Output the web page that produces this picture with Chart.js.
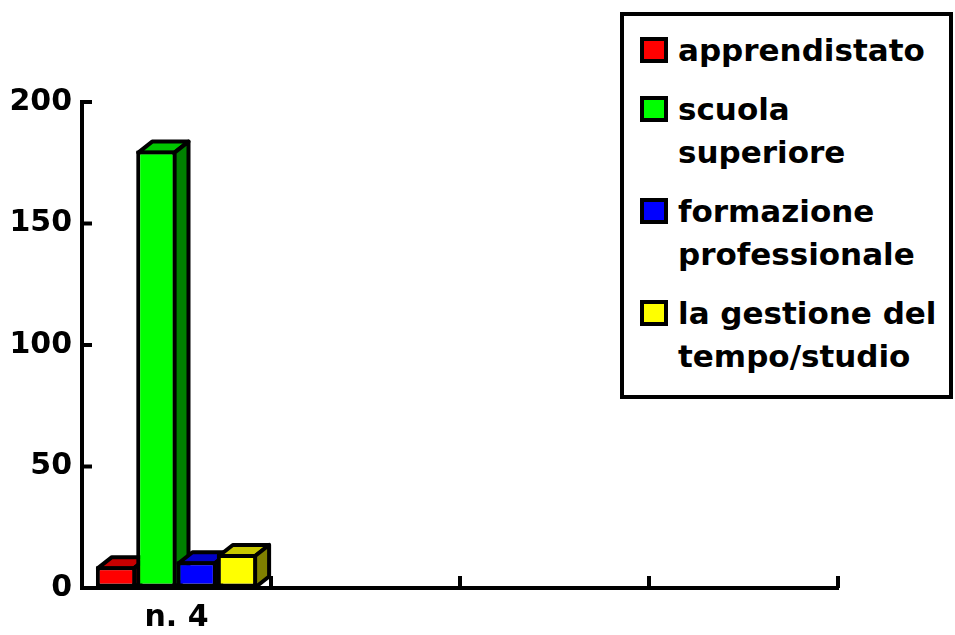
<!DOCTYPE html>
<html>
<head>
<meta charset="utf-8">
<script src="https://cdn.jsdelivr.net/npm/chart.js@4.4.1/dist/chart.umd.min.js"></script>
<style>
  body { margin: 0; background: #fff; }
  #wrap { position: relative; width: 955px; height: 635px; }
  #chart { display: block; }
  #legend {
    position: absolute; left: 620px; top: 12px; width: 333px; height: 387px;
    box-sizing: border-box; border: 4px solid #000; background: #fff;
    padding: 13px 0 0 16px;
    font: bold 31px "DejaVu Sans", sans-serif; line-height: 43px; color: #000;
  }
  .item { display: flex; align-items: flex-start; margin-bottom: 16px; }
  .swatch { flex: none; width: 28px; height: 26px; box-sizing: border-box; border: 4px solid #000; margin: 8px 10px 0 0; }
  .txt { white-space: pre-line; }
</style>
</head>
<body>
<div id="wrap">
  <canvas id="chart" width="955" height="635"></canvas>
  <div id="legend"></div>
</div>
<script>
// dati
const categorie = ["n. 4", "", "", ""];
const serie = ["apprendistato", "scuola\nsuperiore", "formazione\nprofessionale", "la gestione del\ntempo/studio"];
const apprendistato = [9, null, null, null];
const scuolaSuperiore = [180, null, null, null];
const formazioneProf = [11, null, null, null];
const gestioneTempo = [14, null, null, null];
const yTicks = [0, 50, 100, 150, 200];

const colori = ["#ff0000", "#00ff00", "#0000ff", "#ffff00"];
const valori = [apprendistato, scuolaSuperiore, formazioneProf, gestioneTempo];

const FONT = { family: "'DejaVu Sans', sans-serif", size: 30, weight: "bold" };

function scurisci(hex, f) {
  const n = parseInt(hex.slice(1), 16);
  const r = Math.round(((n >> 16) & 255) * f);
  const g = Math.round(((n >> 8) & 255) * f);
  const b = Math.round((n & 255) * f);
  return `rgb(${r},${g},${b})`;
}

// facce superiori e laterali (effetto 3D)
const barre3d = {
  id: "barre3d",
  beforeDatasetsDraw(chart) {
    const ctx = chart.ctx;
    const dx = 14, dy = 11;
    ctx.save();
    ctx.lineWidth = 4;
    ctx.strokeStyle = "#000";
    ctx.lineJoin = "round";
    chart.data.datasets.forEach((ds, i) => {
      const meta = chart.getDatasetMeta(i);
      meta.data.forEach((bar, j) => {
        if (ds.data[j] == null) return;
        const l = bar.x - bar.width / 2 + 2;
        const r = bar.x + bar.width / 2 - 2;
        const t = bar.y + 2;
        const b = bar.base;
        // top
        ctx.beginPath();
        ctx.moveTo(l, t);
        ctx.lineTo(l + dx, t - dy);
        ctx.lineTo(r + dx, t - dy);
        ctx.lineTo(r, t);
        ctx.closePath();
        ctx.fillStyle = scurisci(colori[i], 0.78);
        ctx.fill();
        ctx.stroke();
        // lato
        ctx.beginPath();
        ctx.moveTo(r, t);
        ctx.lineTo(r + dx, t - dy);
        ctx.lineTo(r + dx, b - dy);
        ctx.lineTo(r, b);
        ctx.closePath();
        ctx.fillStyle = scurisci(colori[i], 0.5);
        ctx.fill();
        ctx.stroke();
      });
    });
    ctx.restore();
  }
};

// tacche degli assi verso l'interno
const tacche = {
  id: "tacche",
  afterDraw(chart) {
    const ctx = chart.ctx;
    const x = chart.scales.x, y = chart.scales.y;
    const area = chart.chartArea;
    ctx.save();
    ctx.lineWidth = 4;
    ctx.strokeStyle = "#000";
    // asse y un po' oltre il 200
    ctx.beginPath();
    ctx.moveTo(area.left, area.top - 2);
    ctx.lineTo(area.left, area.top + 2);
    ctx.stroke();
    yTicks.forEach(v => {
      const py = y.getPixelForValue(v);
      ctx.beginPath();
      ctx.moveTo(area.left, py);
      ctx.lineTo(area.left + 10, py);
      ctx.stroke();
    });
    const passo = (x.right - x.left) / categorie.length;
    for (let i = 1; i <= categorie.length; i++) {
      const px = x.left + passo * i;
      ctx.beginPath();
      ctx.moveTo(px, area.bottom);
      ctx.lineTo(px, area.bottom - 12);
      ctx.stroke();
    }
    ctx.restore();
  }
};

new Chart(document.getElementById("chart"), {
  type: "bar",
  data: {
    labels: categorie,
    datasets: serie.map((s, i) => ({
      label: s,
      data: valori[i],
      backgroundColor: colori[i],
      borderColor: "#000",
      borderWidth: 4,
      borderSkipped: false,
      barPercentage: 1,
      categoryPercentage: 0.853
    }))
  },
  options: {
    responsive: false,
    animation: false,
    layout: { padding: { top: 102, right: 117, left: 0, bottom: 0 } },
    plugins: { legend: { display: false }, tooltip: { enabled: false } },
    scales: {
      x: {
        grid: { display: true, drawOnChartArea: false, drawTicks: false },
        border: { display: true, color: "#000", width: 4 },
        ticks: { color: "#000", font: FONT, padding: 12, maxRotation: 0 },
        afterFit(s) { s.height = 47; }
      },
      y: {
        min: 0, max: 200,
        grid: { display: true, drawOnChartArea: false, drawTicks: false },
        border: { display: true, color: "#000", width: 4 },
        ticks: { color: "#000", font: FONT, padding: 10 },
        afterBuildTicks(s) { s.ticks = yTicks.map(v => ({ value: v })); },
        afterFit(s) { s.width = 82; }
      }
    }
  },
  plugins: [barre3d, tacche]
});

// legenda
const leg = document.getElementById("legend");
serie.forEach((s, i) => {
  const it = document.createElement("div");
  it.className = "item";
  const sw = document.createElement("span");
  sw.className = "swatch";
  sw.style.background = colori[i];
  const tx = document.createElement("span");
  tx.className = "txt";
  tx.textContent = s;
  it.appendChild(sw);
  it.appendChild(tx);
  leg.appendChild(it);
});
</script>
</body>
</html>
